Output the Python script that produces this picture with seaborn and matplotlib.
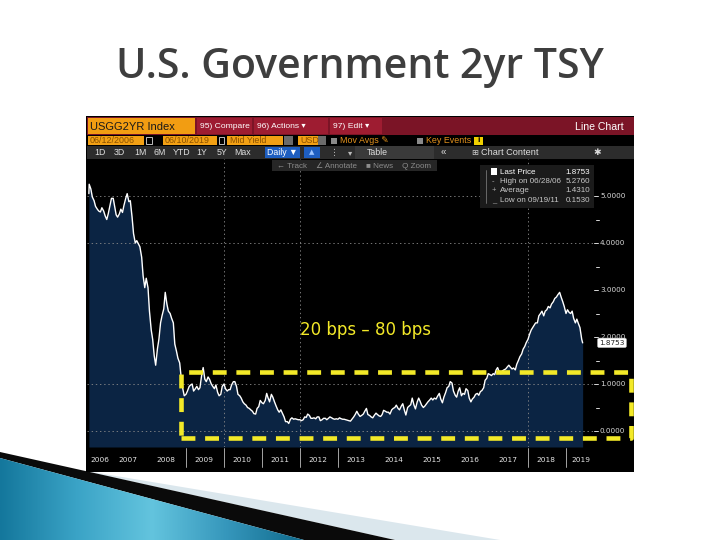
import numpy as np
import pandas as pd
import matplotlib
matplotlib.use("Agg")
import matplotlib.pyplot as plt
import matplotlib.transforms as mtrans
from matplotlib.patches import Rectangle, Polygon
from matplotlib.colors import LinearSegmentedColormap
import seaborn as sns

y2006 = [5.05, 5.25, 5.15, 4.98, 4.90, 4.78, 4.72, 4.68, 4.66, 4.75, 4.68, 4.58, 4.50, 4.62]
y2007 = [4.80, 4.95, 4.95, 4.78, 4.60, 4.55, 4.62, 4.72, 4.65, 4.80, 4.95, 5.05,
         4.88, 4.90, 4.55, 4.20, 4.00, 4.05, 3.98, 3.92, 3.70, 3.30, 3.05, 3.25]
y2008 = [3.05, 2.55, 2.15, 1.95, 1.60, 1.40, 1.75, 1.95, 2.30, 2.45, 2.60, 2.95,
         2.70, 2.55, 2.50, 2.40, 2.30, 1.85, 1.70, 1.55, 1.45, 1.15, 0.90, 0.75]
y2009 = [0.78, 0.85, 0.95, 0.98, 1.00, 0.85, 0.90, 0.95, 0.88, 0.92, 1.20, 1.35,
         1.10, 1.05, 1.15, 1.10, 1.00, 0.95, 0.90, 0.98, 0.82, 0.75, 0.78, 0.95]
y2010 = [1.00, 0.90, 0.85, 0.88, 0.88, 0.98, 1.05, 1.05, 0.95, 0.78, 0.75, 0.70,
         0.62, 0.58, 0.55, 0.50, 0.48, 0.45, 0.42, 0.37, 0.36, 0.48, 0.52, 0.65]
y2011 = [0.60, 0.58, 0.65, 0.80, 0.70, 0.62, 0.78, 0.72, 0.62, 0.54, 0.45, 0.40,
         0.45, 0.38, 0.30, 0.20, 0.20, 0.16, 0.25, 0.28, 0.25, 0.26, 0.25, 0.24]
y2012 = [0.24, 0.22, 0.24, 0.30, 0.29, 0.36, 0.33, 0.27, 0.27, 0.28, 0.26, 0.30,
         0.30, 0.22, 0.24, 0.27, 0.27, 0.24, 0.27, 0.30, 0.28, 0.26, 0.25, 0.26]
y2013 = [0.25, 0.28, 0.26, 0.25, 0.25, 0.24, 0.23, 0.22, 0.21, 0.25, 0.30, 0.35,
         0.42, 0.36, 0.31, 0.33, 0.36, 0.42, 0.48, 0.35, 0.33, 0.30, 0.28, 0.33]
y2014 = [0.38, 0.35, 0.32, 0.31, 0.35, 0.44, 0.42, 0.40, 0.40, 0.36, 0.45, 0.48,
         0.50, 0.55, 0.48, 0.45, 0.53, 0.58, 0.44, 0.34, 0.50, 0.53, 0.56, 0.70]
y2015 = [0.55, 0.47, 0.62, 0.70, 0.63, 0.55, 0.50, 0.53, 0.58, 0.62, 0.66, 0.70,
         0.66, 0.70, 0.68, 0.74, 0.80, 0.68, 0.60, 0.72, 0.82, 0.92, 0.95, 1.05]
y2016 = [1.02, 0.85, 0.76, 0.72, 0.85, 0.92, 0.75, 0.80, 0.78, 0.90, 0.86, 0.70,
         0.62, 0.68, 0.72, 0.78, 0.80, 0.76, 0.84, 0.86, 0.92, 1.08, 1.12, 1.22]
y2017 = [1.20, 1.18, 1.22, 1.20, 1.30, 1.35, 1.25, 1.22, 1.28, 1.30, 1.32, 1.36,
         1.40, 1.36, 1.32, 1.34, 1.30, 1.42, 1.50, 1.58, 1.64, 1.74, 1.80, 1.88]
y2018 = [1.95, 2.05, 2.15, 2.20, 2.25, 2.30, 2.30, 2.45, 2.50, 2.55, 2.45, 2.55,
         2.58, 2.65, 2.62, 2.70, 2.75, 2.82, 2.85, 2.90, 2.95, 2.85, 2.75, 2.65]
y2019 = [2.50, 2.58, 2.52, 2.50, 2.55, 2.40, 2.30, 2.38, 2.28, 2.20, 1.95, 1.8753]

start_date = "2006-06-12"
end_date = "2019-06-10"
last_price = 1.8753
stat_names = ["Last Price", "High on 06/28/06", "Average", "Low on 09/19/11"]
stat_values = ["1.8753", "5.2760", "1.4310", "0.1530"]
axis_levels = [0, 1, 2, 3, 4, 5]
grid_levels = [0, 1, 4, 5]
grid_years = [2010, 2012, 2018]
split_years = [2009, 2010, 2011, 2012, 2013, 2018, 2019]
years = list(range(2006, 2020))
periods = ["1D", "3D", "1M", "6M", "YTD", "1Y", "5Y", "Max"]
title = "U.S. Government 2yr TSY"
note = "20 bps \u2013 80 bps"

# ---- build the series ----
dates = (pd.DatetimeIndex([start_date])
         .append(pd.date_range("2006-06-15", "2019-06-01", freq="SMS"))
         .append(pd.DatetimeIndex([end_date])))
vals = y2006 + y2007 + y2008 + y2009 + y2010 + y2011 + y2012 + y2013 + y2014 \
    + y2015 + y2016 + y2017 + y2018 + y2019
days = np.where(dates.is_leap_year, 366, 365)
df = pd.DataFrame({"t": dates.year + (dates.dayofyear - 1) / days, "yield": vals})

sns.set_style("white")
UI = ["Liberation Sans", "DejaVu Sans"]
plt.rcParams["lines.scale_dashes"] = False

W, H = 720, 540
fig = plt.figure(figsize=(W / 100, H / 100), dpi=100, facecolor="white")


def fx(x):
    return x / W


def fy(y):
    return 1 - y / H


def rect(x0, y0, x1, y1, fc, ec="none", lw=0, z=2):
    fig.add_artist(Rectangle((fx(x0), fy(y1)), (x1 - x0) / W, (y1 - y0) / H,
                             transform=fig.transFigure, facecolor=fc,
                             edgecolor=ec, linewidth=lw, zorder=z))


def label(x, y, s, size=6.5, color="white", ha="left", family=UI, z=4, **kw):
    fig.text(fx(x), fy(y), s, fontsize=size, color=color, ha=ha, va="center",
             family=family, zorder=z, **kw)


# ---- slide decoration, bottom left ----
deco = fig.add_axes([0, 0, 1, 1], zorder=-5)
deco.axis("off")
deco.add_patch(Polygon([(80, 470), (500, 540), (395, 540)], closed=True,
                       facecolor="#dbe7ed", edgecolor="none"))
deco.add_patch(Polygon([(0, 452), (395, 540), (304, 540), (0, 458)], closed=True,
                       facecolor="#0a0a0a", edgecolor="none"))
teal = Polygon([(0, 458), (304, 540), (0, 540)], closed=True,
               facecolor="none", edgecolor="none")
deco.add_patch(teal)
cmap = LinearSegmentedColormap.from_list(
    "swoosh", ["#14779c", "#3aa3c6", "#63c4de", "#3596bb", "#0f6a8c"])
img = deco.imshow(np.linspace(0, 1, 256)[None, :], cmap=cmap, aspect="auto",
                  extent=(0, 304, 540, 456), zorder=1)
img.set_clip_path(teal)
deco.set_xlim(0, W)
deco.set_ylim(H, 0)

# ---- screenshot background ----
rect(86, 116, 634, 472, "black", z=-1)

# ---- chart ----
ax = fig.add_axes([fx(87), fy(447), (634 - 87) / W, (447 - 159) / H])
ax.set_facecolor("black")
x_lo, x_hi = 2009 + (87 - 186) / 38, 2009 + (634 - 186) / 38
y_lo, y_hi = (431 - 447) / 47, (431 - 159) / 47

ax.fill_between(df["t"], df["yield"], y_lo, color="#0b2443", lw=0, zorder=1)
sns.lineplot(data=df, x="t", y="yield", ax=ax, color="white", lw=1.0, zorder=3)

for lvl in grid_levels:
    ax.axhline(lvl, xmin=0, xmax=(593 - 87) / 547, color="#8a8a8a", lw=0.6,
               ls=(0, (1, 2)), zorder=2)
for yr in grid_years:
    ax.axvline(yr, color="#8a8a8a", lw=0.6, ls=(0, (1, 2)), zorder=2)

ax.set_xlim(x_lo, x_hi)
ax.set_ylim(y_lo, y_hi)
ax.set(xlabel=None, ylabel=None, xticks=[], yticks=[])
for s in ax.spines.values():
    s.set_visible(False)

# right-hand value axis
tr = mtrans.blended_transform_factory(fig.transFigure, ax.transData)
for v in axis_levels:
    ax.text(fx(600), v, f"{v:.4f}", transform=tr, fontsize=5.2,
            color="#d8d8d8", va="center", zorder=5)
    ax.plot([fx(594), fx(598)], [v, v], transform=tr, color="#d8d8d8", lw=0.7,
            clip_on=False)
for v in np.array(axis_levels[:-1]) + 0.5:
    ax.plot([fx(596), fx(598.5)], [v, v], transform=tr, color="#d8d8d8",
            lw=0.7, clip_on=False)
ax.text(fx(612), last_price, f"{last_price:.4f}", transform=tr, ha="center",
        va="center", fontsize=5.2, color="#222222", zorder=6,
        bbox=dict(boxstyle="round,pad=0.25,rounding_size=0.25", fc="white",
                  ec="#aaaaaa", lw=0.4))

# year strip under the plot
trx = mtrans.blended_transform_factory(ax.transData, fig.transFigure)
for yr in years:
    pos = {2006: 2006.72, 2019: 2019.39}.get(yr, yr + 0.47)
    ax.text(pos, fy(460), str(yr), transform=trx, ha="center", va="center",
            fontsize=5.3, color="#e6e6e6", zorder=6)
for yr in split_years:
    ax.plot([yr, yr], [fy(448), fy(467)], transform=trx, color="#bdbdbd",
            lw=0.6, clip_on=False, zorder=6)

# ---- Bloomberg header rows ----
rect(87, 117, 634, 135, "#7b1426")
rect(88, 118, 195, 134, "#f29d12")
label(90, 126.5, "USGG2YR Index", size=8, color="#1a1a1a")
for x0, x1, s in [(197, 252, "95) Compare"), (254, 328, "96) Actions \u25be"),
                  (330, 382, "97) Edit \u25be")]:
    rect(x0, 118, x1, 134, "#9e1c31")
    label(x0 + 3, 126.5, s, size=6.1)
label(624, 126.5, "Line Chart", size=7.6, ha="right")

orange = "#f2a014"
ink = "#8a5000"
rect(88, 136, 144, 145, orange)
label(90, 140.6, "06/12/2006", size=6.4, color=ink)
rect(146, 137, 152, 144, "none", ec="#dddddd", lw=0.6)
rect(163, 136, 217, 145, orange)
label(165, 140.6, "06/10/2019", size=6.4, color=ink)
rect(219, 137, 224, 144, "none", ec="#dddddd", lw=0.6)
rect(227, 136, 283, 145, orange)
label(230, 140.6, "Mid Yield", size=6.4, color=ink)
rect(284, 136, 293, 145, "#6b6b6b")
rect(298, 136, 318, 145, orange)
label(300, 140.6, "USD", size=6.4, color=ink)
rect(318, 136, 326, 145, "#6b6b6b")
rect(331, 137.5, 337, 143.5, "#8a8a8a")
label(340, 140.6, "Mov Avgs \u270e", size=6.4, color="#e3921c")
rect(417, 137.5, 423, 143.5, "#8a8a8a")
label(426, 140.6, "Key Events", size=6.4, color="#e3921c")
rect(474, 136.5, 483, 144.5, "#f0d000")
label(478.5, 140.6, "i", size=6, color="black", ha="center", weight="bold")

rect(87, 145.5, 634, 159, "#2c2c2c")
for x, s in zip([100, 119, 140, 160, 182, 202, 222, 243], periods):
    label(x, 152.3, s, size=6.3, color="#e0e0e0", ha="center")
rect(265, 147, 300, 158, "#1e5ec0")
label(282.5, 152.3, "Daily \u25bc", size=6.3, ha="center")
rect(304, 147, 320, 158, "#1e5ec0")
label(312, 152.3, "\u25b2", size=5, color="#9cc4ff", ha="center", family="DejaVu Sans")
label(330, 152.3, "\u22ee", size=6.5, color="#bbbbbb", family="DejaVu Sans")
label(348, 152.3, "\u25be", size=6, color="#bbbbbb", family="DejaVu Sans")
rect(355, 146.5, 434, 158.5, "#3a3a3a")
label(377, 152.3, "Table", size=6.3, color="#e0e0e0", ha="center")
label(441, 152.3, "\u00ab", size=7, color="#dddddd")
label(471, 152.3, "\u229e", size=6, color="#cccccc", family="DejaVu Sans")
label(481, 152.3, "Chart Content", size=6.6, color="#e0e0e0")
label(597, 152.3, "\u2731", size=6.5, color="#dddddd", ha="center", family="DejaVu Sans")

rect(272, 160, 437, 171, "#262626")
label(277, 165.6, "\u2190 Track    \u2220 Annotate    \u25a0 News    Q Zoom",
      size=5.8, color="#8c8c8c")

# legend panel
rect(480, 165, 594, 208, "#1b1b1b")
rect(491, 168.5, 497, 175, "white", z=3)
fig.add_artist(plt.Line2D([fx(486), fx(486)], [fy(170), fy(203)],
                          transform=fig.transFigure, color="#888888", lw=0.5, zorder=3))
for i, (name, val) in enumerate(zip(stat_names, stat_values)):
    yy = 172 + i * 9.5
    col = "white" if i == 0 else "#c8c8c8"
    if i > 0:
        label(492, yy, ["", "-", "+", "_"][i], size=5.5, color="#aaaaaa")
    label(500, yy, name, size=5.8, color=col)
    label(590, yy, val, size=5.8, color=col, ha="right")

# ---- annotation drawn on the slide ----
yellow = "#f3e928"
fig.add_artist(Rectangle((fx(181), fy(438)), (631 - 181) / W, (438 - 372) / H,
                         transform=fig.transFigure, facecolor="none",
                         edgecolor=yellow, linewidth=3.3,
                         linestyle=(0, (10.0, 7.0)), joinstyle="round",
                         zorder=10))
fig.text(fx(366), fy(330), note, fontsize=12, color=yellow, ha="center",
         va="center", zorder=10)

fig.text(0.5, fy(78), title, fontsize=29.5, color="#3e3e3e", ha="center",
         va="baseline", family=["Open Sans", "DejaVu Sans"], weight="semibold")

fig.savefig("out.png", dpi=100, facecolor="white")
